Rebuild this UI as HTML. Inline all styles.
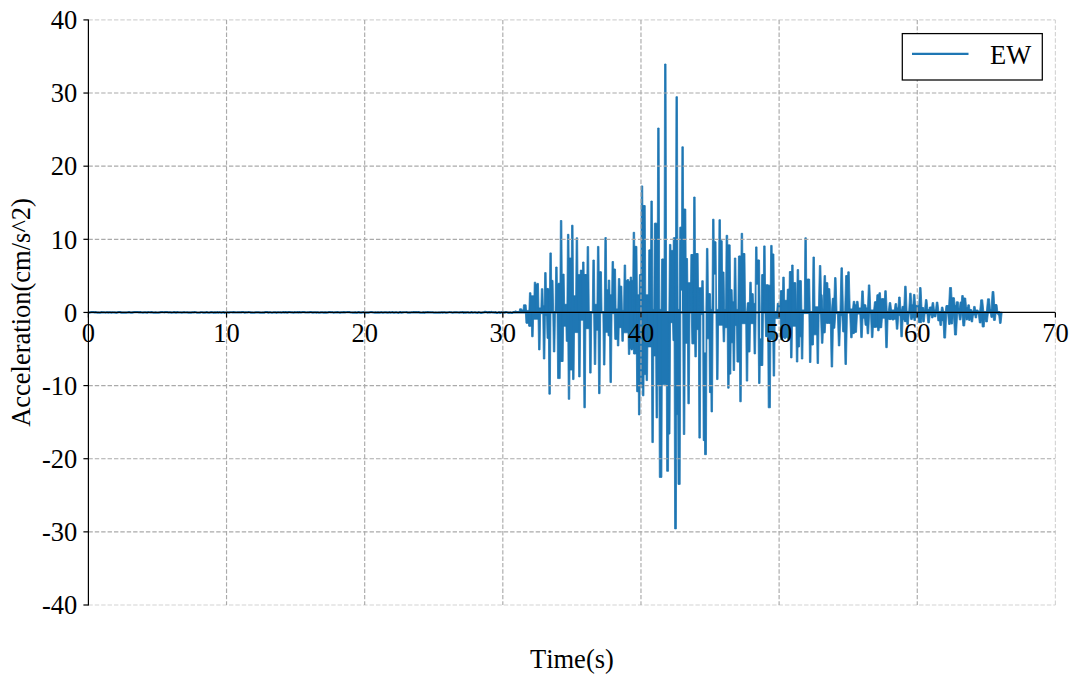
<!DOCTYPE html>
<html><head><meta charset="utf-8"><title>EW acceleration</title>
<style>html,body{margin:0;padding:0;background:#fff;}svg{display:block}text{font-family:"Liberation Serif",serif;fill:#000;font-kerning:none}</style></head><body>
<svg width="1080" height="685" viewBox="0 0 1080 685">
<rect width="1080" height="685" fill="#fff"/>
<polyline points="88.4,312.33 89.3,312.56 90.2,312.48 91.3,312.14 92.5,312.13 93.6,312.15 94.5,312.40 96.0,312.19 96.9,312.54 98.5,312.50 99.6,312.78 100.4,312.70 101.5,312.20 102.4,312.32 103.8,312.23 105.1,312.55 106.2,312.48 107.0,312.14 108.0,312.58 109.1,312.32 110.4,312.42 111.5,312.66 112.8,312.27 114.1,312.47 115.6,312.61 116.6,312.79 117.5,312.39 118.9,312.21 120.1,312.13 121.4,312.64 122.7,312.71 123.7,312.59 125.0,312.51 126.2,312.69 127.7,312.43 129.1,312.14 130.4,312.55 132.0,312.68 133.1,312.37 134.4,312.12 135.6,312.22 136.5,312.14 137.9,312.19 138.9,312.37 140.4,312.16 141.5,312.48 143.0,312.67 144.5,312.29 145.6,312.35 147.2,312.77 148.1,312.22 149.1,312.26 150.3,312.51 151.3,312.10 152.4,312.36 153.6,312.77 155.0,312.46 156.3,312.57 157.1,312.73 158.6,312.71 160.0,312.37 161.1,312.17 162.4,312.14 163.3,312.25 164.2,312.34 165.1,312.10 166.0,312.17 167.1,312.12 168.6,312.53 169.5,312.28 170.6,312.35 171.5,312.69 173.1,312.43 174.2,312.16 175.1,312.34 176.1,312.68 177.1,312.12 178.6,312.47 179.5,312.48 180.4,312.47 181.9,312.70 183.3,312.28 184.4,312.22 185.8,312.47 187.2,312.33 188.2,312.67 189.8,312.70 191.2,312.67 192.6,312.26 193.9,312.35 194.7,312.12 195.7,312.28 197.1,312.77 198.2,312.76 199.8,312.77 200.9,312.25 201.9,312.24 202.8,312.54 204.4,312.69 205.5,312.56 207.0,312.16 208.3,312.74 209.7,312.63 210.9,312.22 212.4,312.33 213.8,312.78 214.9,312.38 216.5,312.61 217.4,312.19 218.3,312.73 219.8,312.20 221.2,312.79 222.6,312.35 223.8,312.19 224.6,312.78 225.9,312.47 227.5,312.40 229.0,312.68 229.9,312.28 231.0,312.27 232.2,312.28 233.4,312.19 234.9,312.35 236.1,312.51 237.6,312.39 239.1,312.45 240.4,312.47 241.2,312.41 242.1,312.10 243.6,312.22 244.7,312.61 246.0,312.33 247.2,312.49 248.6,312.17 249.9,312.27 250.9,312.64 252.1,312.49 253.5,312.74 254.7,312.53 255.9,312.46 257.2,312.42 258.4,312.43 260.0,312.59 261.5,312.76 262.5,312.49 264.1,312.69 265.0,312.19 266.1,312.15 267.1,312.15 268.5,312.65 270.0,312.21 271.3,312.56 272.3,312.72 273.8,312.25 275.4,312.38 276.6,312.79 278.1,312.21 279.2,312.46 280.3,312.24 281.3,312.61 282.1,312.49 283.3,312.11 284.4,312.54 285.6,312.15 287.2,312.65 288.7,312.17 289.7,312.13 291.2,312.29 292.1,312.40 293.6,312.67 294.6,312.20 296.1,312.50 297.5,312.16 298.3,312.58 299.5,312.15 301.0,312.54 302.5,312.16 304.0,312.15 305.5,312.42 306.5,312.49 308.1,312.29 309.0,312.47 310.0,312.18 310.9,312.14 311.9,312.32 312.9,312.63 313.9,312.45 314.9,312.34 315.7,312.28 316.5,312.61 317.7,312.23 318.9,312.75 319.8,312.67 320.9,312.45 322.4,312.38 323.6,312.58 325.2,312.34 326.7,312.59 328.0,312.38 329.1,312.14 330.0,312.15 331.4,312.28 332.3,312.16 333.8,312.71 335.1,312.30 336.1,312.31 337.3,312.21 338.4,312.28 340.0,312.78 341.2,312.27 342.8,312.32 343.9,312.10 345.0,312.43 346.2,312.24 347.4,312.10 348.4,312.16 349.5,312.13 350.3,312.31 351.3,312.51 352.6,312.63 353.9,312.60 355.4,312.37 356.4,312.79 357.4,312.61 358.7,312.13 360.1,312.72 361.4,312.61 362.9,312.20 364.1,312.45 365.6,312.66 367.0,312.51 368.6,312.58 369.9,312.26 370.7,312.19 371.8,312.17 373.3,312.49 374.6,312.54 375.9,312.44 376.7,312.66 378.1,312.45 379.4,312.56 380.2,312.62 381.2,312.15 382.2,312.61 383.2,312.62 384.8,312.45 385.9,312.44 387.2,312.64 388.5,312.55 389.4,312.20 390.4,312.62 391.4,312.50 392.2,312.14 393.3,312.57 394.6,312.57 395.6,312.46 396.8,312.43 397.7,312.73 398.7,312.78 400.2,312.11 401.4,312.67 403.0,312.41 404.0,312.25 405.5,312.25 406.8,312.20 408.0,312.77 408.9,312.67 410.1,312.72 411.5,312.26 413.0,312.44 413.8,312.10 415.0,312.42 416.1,312.20 417.1,312.32 418.6,312.10 420.0,312.69 420.9,312.75 422.3,312.73 423.3,312.36 424.4,312.80 425.7,312.35 426.8,312.29 427.7,312.17 429.2,312.30 430.7,312.27 431.7,312.46 432.7,312.36 434.2,312.72 435.7,312.54 437.2,312.76 438.4,312.60 439.3,312.61 440.4,312.63 441.8,312.30 442.6,312.75 443.5,312.43 444.6,312.31 446.0,312.78 447.0,312.56 448.0,312.49 449.1,312.22 450.1,312.25 451.6,312.45 452.6,312.73 454.2,312.41 455.1,312.23 455.9,312.34 456.8,312.27 457.8,312.50 459.3,312.62 460.5,312.39 461.7,312.36 462.8,312.14 463.8,312.78 464.7,312.45 466.0,312.70 467.0,312.29 468.0,312.38 469.1,312.77 470.6,312.71 471.4,312.12 472.8,312.73 474.0,312.51 474.8,312.37 476.3,312.68 477.8,312.78 478.8,312.18 479.7,312.47 481.0,312.98 482.4,312.63 483.8,312.40 485.1,311.90 486.5,312.13 488.0,312.62 489.1,312.00 490.1,312.61 491.4,311.98 492.3,312.48 493.6,312.32 494.5,312.57 495.4,312.21 496.5,313.00 497.8,312.91 499.0,312.13 500.0,313.00 501.4,312.22 502.2,312.45 503.5,312.35 504.5,312.65 506.1,312.12 506.9,312.26 508.0,312.67 509.0,312.81 510.4,312.46 511.4,313.01 512.4,312.83 513.4,312.12 1000.0,312.45" fill="none" stroke="#1f77b4" stroke-width="2.2" stroke-linejoin="round"/>
<path d="M514.46 312.2L514.85 310.9L516.35 310.9L516.74 312.2ZM515.60 312.2L515.60 311.7L520.60 311.7L520.60 312.2ZM519.05 312.2L519.60 308.8L521.60 308.8L522.15 312.2ZM520.60 312.2L520.60 309.9L524.80 309.9L524.80 312.2ZM522.90 312.2L523.50 304.8L526.10 304.8L526.70 312.2ZM524.80 312.2L524.80 310.4L530.20 310.4L530.20 312.2ZM528.85 312.2L529.45 292.7L530.95 292.7L531.55 312.2ZM530.20 312.2L530.20 295.8L535.00 295.8L535.00 312.2ZM533.65 312.2L534.25 282.2L535.75 282.2L536.35 312.2ZM535.00 312.2L535.00 284.2L537.70 284.2L537.70 312.2ZM536.35 312.2L536.95 283.4L538.45 283.4L539.05 312.2ZM537.70 312.2L537.70 307.9L542.10 307.9L542.10 312.2ZM540.75 312.2L541.35 288.7L542.85 288.7L543.45 312.2ZM542.10 312.2L542.10 305.8L545.40 305.8L545.40 312.2ZM544.05 312.2L544.65 272.6L546.15 272.6L546.75 312.2ZM545.40 312.2L545.40 288.7L547.80 288.7L547.80 312.2ZM546.45 312.2L547.05 288.4L548.55 288.4L549.15 312.2ZM547.80 312.2L547.80 289.7L550.60 289.7L550.60 312.2ZM549.25 312.2L549.85 252.9L551.35 252.9L551.95 312.2ZM550.60 312.2L550.60 280.4L552.30 280.4L552.30 312.2ZM550.95 312.2L551.55 280.4L553.05 280.4L553.65 312.2ZM555.05 312.2L555.65 267.0L557.15 267.0L557.75 312.2ZM556.40 312.2L556.40 284.2L558.90 284.2L558.90 312.2ZM557.55 312.2L558.15 283.2L559.65 283.2L560.25 312.2ZM558.90 312.2L558.90 283.7L561.10 283.7L561.10 312.2ZM559.75 312.2L560.35 220.5L561.85 220.5L562.45 312.2ZM561.10 312.2L561.10 274.6L563.40 274.6L563.40 312.2ZM562.05 312.2L562.65 274.1L564.15 274.1L564.75 312.2ZM563.40 312.2L563.40 304.3L568.20 304.3L568.20 312.2ZM566.85 312.2L567.45 234.3L568.95 234.3L569.55 312.2ZM568.20 312.2L568.20 258.0L572.30 258.0L572.30 312.2ZM570.95 312.2L571.55 225.2L573.05 225.2L573.65 312.2ZM572.30 312.2L572.30 295.8L576.90 295.8L576.90 312.2ZM575.55 312.2L576.15 237.8L577.65 237.8L578.25 312.2ZM576.90 312.2L576.90 274.6L581.00 274.6L581.00 312.2ZM579.65 312.2L580.25 270.1L581.75 270.1L582.35 312.2ZM581.00 312.2L581.00 270.6L583.30 270.6L583.30 312.2ZM581.95 312.2L582.55 262.0L584.05 262.0L584.65 312.2ZM583.30 312.2L583.30 274.6L585.60 274.6L585.60 312.2ZM584.25 312.2L584.85 274.6L586.35 274.6L586.95 312.2ZM585.60 312.2L585.60 274.6L587.90 274.6L587.90 312.2ZM586.55 312.2L587.15 246.6L588.65 246.6L589.25 312.2ZM592.25 312.2L592.85 260.0L594.35 260.0L594.95 312.2ZM593.60 312.2L593.60 304.3L598.20 304.3L598.20 312.2ZM596.85 312.2L597.45 246.4L598.95 246.4L599.55 312.2ZM598.20 312.2L598.20 271.8L600.70 271.8L600.70 312.2ZM599.35 312.2L599.95 271.8L601.45 271.8L602.05 312.2ZM604.25 312.2L604.85 237.6L606.35 237.6L606.95 312.2ZM605.60 312.2L605.60 289.7L609.00 289.7L609.00 312.2ZM607.65 312.2L608.25 280.1L609.75 280.1L610.35 312.2ZM609.00 312.2L609.00 294.8L612.80 294.8L612.80 312.2ZM611.45 312.2L612.05 261.5L613.55 261.5L614.15 312.2ZM612.80 312.2L612.80 269.1L614.80 269.1L614.80 312.2ZM613.45 312.2L614.05 269.1L615.55 269.1L616.15 312.2ZM614.80 312.2L614.80 308.9L619.10 308.9L619.10 312.2ZM617.75 312.2L618.35 278.6L619.85 278.6L620.45 312.2ZM619.10 312.2L619.10 286.2L621.10 286.2L621.10 312.2ZM619.75 312.2L620.35 286.2L621.85 286.2L622.45 312.2ZM621.10 312.2L621.10 310.4L624.90 310.4L624.90 312.2ZM623.55 312.2L624.15 265.0L625.65 265.0L626.25 312.2ZM624.90 312.2L624.90 280.4L627.90 280.4L627.90 312.2ZM626.55 312.2L627.15 279.6L628.65 279.6L629.25 312.2ZM627.90 312.2L627.90 281.4L630.90 281.4L630.90 312.2ZM629.55 312.2L630.15 277.1L631.65 277.1L632.25 312.2ZM630.90 312.2L630.90 280.4L633.90 280.4L633.90 312.2ZM632.55 312.2L633.15 232.3L634.65 232.3L635.25 312.2ZM633.90 312.2L633.90 246.4L636.20 246.4L636.20 312.2ZM634.85 312.2L635.45 246.4L636.95 246.4L637.55 312.2ZM636.20 312.2L636.20 294.8L640.20 294.8L640.20 312.2ZM638.85 312.2L639.45 274.6L640.95 274.6L641.55 312.2ZM640.20 312.2L640.20 274.6L642.00 274.6L642.00 312.2ZM640.65 312.2L641.25 185.9L642.75 185.9L643.35 312.2ZM642.00 312.2L642.00 205.6L644.50 205.6L644.50 312.2ZM643.15 312.2L643.75 205.6L645.25 205.6L645.85 312.2ZM644.50 312.2L644.50 294.8L649.50 294.8L649.50 312.2ZM648.15 312.2L648.75 249.9L650.25 249.9L650.85 312.2ZM649.50 312.2L649.50 249.9L651.60 249.9L651.60 312.2ZM650.25 312.2L650.85 201.0L652.35 201.0L652.95 312.2ZM651.60 312.2L651.60 309.4L655.10 309.4L655.10 312.2ZM653.75 312.2L654.35 223.2L655.85 223.2L656.45 312.2ZM655.10 312.2L655.10 223.2L658.40 223.2L658.40 312.2ZM657.05 312.2L657.65 128.0L659.15 128.0L659.75 312.2ZM658.40 312.2L658.40 309.4L662.40 309.4L662.40 312.2ZM661.05 312.2L661.65 259.0L663.15 259.0L663.75 312.2ZM662.40 312.2L662.40 259.0L665.30 259.0L665.30 312.2ZM663.95 312.2L664.55 64.0L666.05 64.0L666.65 312.2ZM668.85 312.2L669.45 244.4L670.95 244.4L671.55 312.2ZM670.20 312.2L670.20 250.4L674.00 250.4L674.00 312.2ZM672.65 312.2L673.25 237.8L674.75 237.8L675.35 312.2ZM674.00 312.2L674.00 237.8L676.70 237.8L676.70 312.2ZM675.35 312.2L675.95 96.7L677.45 96.7L678.05 312.2ZM676.70 312.2L676.70 309.4L680.50 309.4L680.50 312.2ZM679.15 312.2L679.75 227.2L681.25 227.2L681.85 312.2ZM680.50 312.2L680.50 227.2L682.60 227.2L682.60 312.2ZM681.25 312.2L681.85 146.8L683.35 146.8L683.95 312.2ZM682.60 312.2L682.60 209.1L685.10 209.1L685.10 312.2ZM683.75 312.2L684.35 209.1L685.85 209.1L686.45 312.2ZM685.10 312.2L685.10 258.5L686.80 258.5L686.80 312.2ZM685.45 312.2L686.05 258.5L687.55 258.5L688.15 312.2ZM686.80 312.2L686.80 282.7L691.60 282.7L691.60 312.2ZM690.25 312.2L690.85 254.5L692.35 254.5L692.95 312.2ZM691.60 312.2L691.60 254.5L694.40 254.5L694.40 312.2ZM693.05 312.2L693.65 197.0L695.15 197.0L695.75 312.2ZM694.40 312.2L694.40 253.5L697.40 253.5L697.40 312.2ZM696.05 312.2L696.65 253.5L698.15 253.5L698.75 312.2ZM697.40 312.2L697.40 287.7L702.50 287.7L702.50 312.2ZM701.15 312.2L701.75 280.7L703.25 280.7L703.85 312.2ZM705.85 312.2L706.45 248.4L707.95 248.4L708.55 312.2ZM707.20 312.2L707.20 293.7L709.70 293.7L709.70 312.2ZM708.35 312.2L708.95 293.7L710.45 293.7L711.05 312.2ZM709.70 312.2L709.70 309.4L713.30 309.4L713.30 312.2ZM711.95 312.2L712.55 219.2L714.05 219.2L714.65 312.2ZM713.30 312.2L713.30 241.8L715.30 241.8L715.30 312.2ZM713.95 312.2L714.55 241.8L716.05 241.8L716.65 312.2ZM715.30 312.2L715.30 309.4L719.70 309.4L719.70 312.2ZM718.35 312.2L718.95 219.7L720.45 219.7L721.05 312.2ZM719.70 312.2L719.70 240.8L721.50 240.8L721.50 312.2ZM720.15 312.2L720.75 240.8L722.25 240.8L722.85 312.2ZM721.50 312.2L721.50 272.1L723.30 272.1L723.30 312.2ZM721.95 312.2L722.55 272.1L724.05 272.1L724.65 312.2ZM723.30 312.2L723.30 309.4L726.90 309.4L726.90 312.2ZM725.50 312.2L726.10 235.3L727.70 235.3L728.30 312.2ZM726.90 312.2L726.90 244.9L729.40 244.9L729.40 312.2ZM728.00 312.2L728.60 244.9L730.20 244.9L730.80 312.2ZM729.40 312.2L729.40 289.7L731.40 289.7L731.40 312.2ZM730.05 312.2L730.65 289.7L732.15 289.7L732.75 312.2ZM731.40 312.2L731.40 301.8L735.10 301.8L735.10 312.2ZM733.75 312.2L734.35 258.0L735.85 258.0L736.45 312.2ZM735.10 312.2L735.10 309.4L739.20 309.4L739.20 312.2ZM737.85 312.2L738.45 256.0L739.95 256.0L740.55 312.2ZM739.20 312.2L739.20 256.0L741.90 256.0L741.90 312.2ZM740.55 312.2L741.15 233.3L742.65 233.3L743.25 312.2ZM741.90 312.2L741.90 253.5L744.20 253.5L744.20 312.2ZM742.85 312.2L743.45 253.5L744.95 253.5L745.55 312.2ZM746.65 312.2L747.25 302.8L748.75 302.8L749.35 312.2ZM748.00 312.2L748.00 302.8L750.50 302.8L750.50 312.2ZM749.15 312.2L749.75 282.2L751.25 282.2L751.85 312.2ZM750.50 312.2L750.50 293.7L752.50 293.7L752.50 312.2ZM751.15 312.2L751.75 293.7L753.25 293.7L753.85 312.2ZM752.50 312.2L752.50 303.4L756.30 303.4L756.30 312.2ZM754.95 312.2L755.55 246.9L757.05 246.9L757.65 312.2ZM756.30 312.2L756.30 260.0L758.80 260.0L758.80 312.2ZM757.45 312.2L758.05 260.0L759.55 260.0L760.15 312.2ZM761.05 312.2L761.65 274.6L763.15 274.6L763.75 312.2ZM762.40 312.2L762.40 274.6L764.40 274.6L764.40 312.2ZM763.05 312.2L763.65 245.9L765.15 245.9L765.75 312.2ZM764.40 312.2L764.40 284.7L767.90 284.7L767.90 312.2ZM766.55 312.2L767.15 285.2L768.65 285.2L769.25 312.2ZM767.90 312.2L767.90 285.2L771.40 285.2L771.40 312.2ZM770.05 312.2L770.65 245.4L772.15 245.4L772.75 312.2ZM771.40 312.2L771.40 254.0L773.20 254.0L773.20 312.2ZM771.85 312.2L772.45 254.0L773.95 254.0L774.55 312.2ZM776.65 312.2L777.25 303.3L778.75 303.3L779.35 312.2ZM778.00 312.2L778.00 303.3L781.00 303.3L781.00 312.2ZM779.65 312.2L780.25 290.7L781.75 290.7L782.35 312.2ZM781.00 312.2L781.00 290.7L783.50 290.7L783.50 312.2ZM782.15 312.2L782.75 277.1L784.25 277.1L784.85 312.2ZM783.50 312.2L783.50 300.3L788.00 300.3L788.00 312.2ZM786.65 312.2L787.25 289.2L788.75 289.2L789.35 312.2ZM788.00 312.2L788.00 289.2L790.10 289.2L790.10 312.2ZM788.75 312.2L789.35 271.6L790.85 271.6L791.45 312.2ZM790.10 312.2L790.10 271.6L792.40 271.6L792.40 312.2ZM791.05 312.2L791.65 265.0L793.15 265.0L793.75 312.2ZM792.40 312.2L792.40 282.7L795.10 282.7L795.10 312.2ZM793.75 312.2L794.35 282.7L795.85 282.7L796.45 312.2ZM795.10 312.2L795.10 309.4L797.90 309.4L797.90 312.2ZM796.55 312.2L797.15 269.6L798.65 269.6L799.25 312.2ZM797.90 312.2L797.90 280.7L800.60 280.7L800.60 312.2ZM799.25 312.2L799.85 280.7L801.35 280.7L801.95 312.2ZM800.60 312.2L800.60 309.9L805.60 309.9L805.60 312.2ZM804.25 312.2L804.85 237.8L806.35 237.8L806.95 312.2ZM805.60 312.2L805.60 279.1L808.90 279.1L808.90 312.2ZM807.55 312.2L808.15 279.1L809.65 279.1L810.25 312.2ZM812.35 312.2L812.95 257.0L814.45 257.0L815.05 312.2ZM813.70 312.2L813.70 306.8L820.10 306.8L820.10 312.2ZM818.35 312.2L819.35 265.5L820.85 265.5L821.85 312.2ZM820.10 312.2L820.10 294.8L821.40 294.8L821.40 312.2ZM819.65 312.2L820.65 294.8L822.15 294.8L823.15 312.2ZM821.40 312.2L821.40 309.4L824.80 309.4L824.80 312.2ZM823.05 312.2L824.05 275.6L825.55 275.6L826.55 312.2ZM824.80 312.2L824.80 282.7L827.10 282.7L827.10 312.2ZM825.35 312.2L826.35 282.7L827.85 282.7L828.85 312.2ZM827.10 312.2L827.10 288.7L829.10 288.7L829.10 312.2ZM827.35 312.2L828.35 288.7L829.85 288.7L830.85 312.2ZM831.35 312.2L832.35 298.3L833.85 298.3L834.85 312.2ZM833.10 312.2L833.10 298.3L835.30 298.3L835.30 312.2ZM833.55 312.2L834.55 277.6L836.05 277.6L837.05 312.2ZM839.95 312.2L840.95 267.8L842.45 267.8L843.45 312.2ZM844.65 312.2L845.65 275.6L847.15 275.6L848.15 312.2ZM846.40 312.2L846.40 275.6L848.50 275.6L848.50 312.2ZM846.75 312.2L847.75 271.8L849.25 271.8L850.25 312.2ZM848.50 312.2L848.50 308.9L854.00 308.9L854.00 312.2ZM852.25 312.2L853.25 301.3L854.75 301.3L855.75 312.2ZM854.00 312.2L854.00 304.8L857.30 304.8L857.30 312.2ZM855.55 312.2L856.55 301.3L858.05 301.3L859.05 312.2ZM857.30 312.2L857.30 307.9L862.50 307.9L862.50 312.2ZM860.75 312.2L861.75 290.9L863.25 290.9L864.25 312.2ZM862.50 312.2L862.50 304.8L865.10 304.8L865.10 312.2ZM863.48 312.2L864.35 304.8L865.85 304.8L866.72 312.2ZM865.10 312.2L865.10 307.9L869.10 307.9L869.10 312.2ZM867.35 312.2L868.35 284.9L869.85 284.9L870.85 312.2ZM869.10 312.2L869.10 309.9L875.20 309.9L875.20 312.2ZM873.45 312.2L874.45 301.8L875.95 301.8L876.95 312.2ZM875.20 312.2L875.20 301.8L877.60 301.8L877.60 312.2ZM875.85 312.2L876.85 294.8L878.35 294.8L879.35 312.2ZM877.60 312.2L877.60 294.8L879.70 294.8L879.70 312.2ZM877.95 312.2L878.95 292.7L880.45 292.7L881.45 312.2ZM879.70 312.2L879.70 298.8L882.70 298.8L882.70 312.2ZM880.95 312.2L881.95 298.8L883.45 298.8L884.45 312.2ZM882.70 312.2L882.70 298.8L885.50 298.8L885.50 312.2ZM883.75 312.2L884.75 290.7L886.25 290.7L887.25 312.2ZM885.50 312.2L885.50 311.4L890.00 311.4L890.00 312.2ZM888.25 312.2L889.25 302.6L890.75 302.6L891.75 312.2ZM890.00 312.2L890.00 309.9L895.80 309.9L895.80 312.2ZM894.08 312.2L895.05 303.6L896.55 303.6L897.52 312.2ZM895.80 312.2L895.80 307.9L899.40 307.9L899.40 312.2ZM897.65 312.2L898.65 297.0L900.15 297.0L901.15 312.2ZM899.40 312.2L899.40 309.9L902.80 309.9L902.80 312.2ZM901.30 312.2L902.05 306.4L903.55 306.4L904.30 312.2ZM902.80 312.2L902.80 306.4L905.40 306.4L905.40 312.2ZM903.65 312.2L904.65 286.2L906.15 286.2L907.15 312.2ZM905.40 312.2L905.40 311.4L910.40 311.4L910.40 312.2ZM908.65 312.2L909.65 293.2L911.15 293.2L912.15 312.2ZM910.40 312.2L910.40 304.8L914.20 304.8L914.20 312.2ZM912.45 312.2L913.45 294.4L914.95 294.4L915.95 312.2ZM914.20 312.2L914.20 305.4L916.70 305.4L916.70 312.2ZM915.12 312.2L915.95 305.4L917.45 305.4L918.28 312.2ZM916.70 312.2L916.70 305.4L920.30 305.4L920.30 312.2ZM918.40 312.2L919.55 287.5L921.05 287.5L922.20 312.2ZM920.30 312.2L920.30 307.6L923.00 307.6L923.00 312.2ZM921.60 312.2L922.25 307.6L923.75 307.6L924.40 312.2ZM923.00 312.2L923.00 310.6L926.20 310.6L926.20 312.2ZM924.30 312.2L925.45 299.6L926.95 299.6L928.10 312.2ZM926.20 312.2L926.20 309.6L930.10 309.6L930.10 312.2ZM928.66 312.2L929.35 307.1L930.85 307.1L931.54 312.2ZM930.10 312.2L930.10 307.1L932.90 307.1L932.90 312.2ZM931.10 312.2L932.15 302.6L933.65 302.6L934.70 312.2ZM932.90 312.2L932.90 310.1L937.10 310.1L937.10 312.2ZM935.26 312.2L936.35 302.1L937.85 302.1L938.94 312.2ZM940.76 312.2L941.45 307.1L942.95 307.1L943.64 312.2ZM945.14 312.2L945.95 305.6L947.45 305.6L948.26 312.2ZM946.70 312.2L946.70 305.6L950.50 305.6L950.50 312.2ZM948.35 312.2L949.50 287.5L951.50 287.5L952.65 312.2ZM950.50 312.2L950.50 297.8L953.70 297.8L953.70 312.2ZM951.80 312.2L952.95 297.8L954.45 297.8L955.60 312.2ZM953.70 312.2L953.70 305.6L957.30 305.6L957.30 312.2ZM955.19 312.2L956.30 301.8L958.30 301.8L959.41 312.2ZM957.30 312.2L957.30 308.6L960.80 308.6L960.80 312.2ZM958.96 312.2L960.05 302.1L961.55 302.1L962.64 312.2ZM960.80 312.2L960.80 302.1L962.50 302.1L962.50 312.2ZM960.60 312.2L961.75 295.5L963.25 295.5L964.40 312.2ZM962.50 312.2L962.50 298.1L965.00 298.1L965.00 312.2ZM963.10 312.2L964.25 298.1L965.75 298.1L966.90 312.2ZM965.00 312.2L965.00 307.6L968.60 307.6L968.60 312.2ZM966.98 312.2L967.85 304.8L969.35 304.8L970.22 312.2ZM968.60 312.2L968.60 309.6L970.90 309.6L970.90 312.2ZM969.66 312.2L970.15 309.6L971.65 309.6L972.14 312.2ZM970.90 312.2L970.90 311.1L974.40 311.1L974.40 312.2ZM972.90 312.2L973.65 306.4L975.15 306.4L975.90 312.2ZM974.40 312.2L974.40 310.1L977.40 310.1L977.40 312.2ZM976.20 312.2L976.65 310.1L978.15 310.1L978.60 312.2ZM979.55 312.2L980.70 299.8L982.70 299.8L983.85 312.2ZM986.35 312.2L987.50 298.8L989.50 298.8L990.65 312.2ZM988.50 312.2L988.50 309.6L993.00 309.6L993.00 312.2ZM990.95 312.2L992.10 291.5L993.90 291.5L995.05 312.2ZM993.00 312.2L993.00 304.6L996.10 304.6L996.10 312.2ZM994.31 312.2L995.20 304.6L997.00 304.6L997.89 312.2ZM528.05 312.2L527.45 323.2L525.95 323.2L525.35 312.2ZM529.40 312.2L529.40 323.2L526.70 323.2L526.70 312.2ZM530.75 312.2L530.15 326.2L528.65 326.2L528.05 312.2ZM532.40 312.2L532.40 326.2L529.40 326.2L529.40 312.2ZM533.75 312.2L533.15 336.8L531.65 336.8L531.05 312.2ZM539.30 312.2L539.30 319.2L532.40 319.2L532.40 312.2ZM540.65 312.2L540.05 349.9L538.55 349.9L537.95 312.2ZM544.10 312.2L544.10 313.6L539.30 313.6L539.30 312.2ZM545.45 312.2L544.85 359.0L543.35 359.0L542.75 312.2ZM547.80 312.2L547.80 315.6L544.10 315.6L544.10 312.2ZM549.15 312.2L548.55 338.3L547.05 338.3L546.45 312.2ZM549.60 312.2L549.60 338.3L547.80 338.3L547.80 312.2ZM550.95 312.2L550.35 394.2L548.85 394.2L548.25 312.2ZM555.45 312.2L554.85 351.9L553.35 351.9L552.75 312.2ZM560.80 312.2L560.20 378.6L557.60 378.6L557.00 312.2ZM562.40 312.2L562.40 361.5L558.90 361.5L558.90 312.2ZM563.75 312.2L563.15 361.5L561.65 361.5L561.05 312.2ZM567.00 312.2L567.00 326.2L562.40 326.2L562.40 312.2ZM568.35 312.2L567.75 341.3L566.25 341.3L565.65 312.2ZM569.00 312.2L569.00 341.3L567.00 341.3L567.00 312.2ZM570.35 312.2L569.75 399.3L568.25 399.3L567.65 312.2ZM573.30 312.2L573.30 370.0L569.00 370.0L569.00 312.2ZM574.65 312.2L574.05 379.6L572.55 379.6L571.95 312.2ZM579.40 312.2L579.40 332.6L573.30 332.6L573.30 312.2ZM580.75 312.2L580.15 376.9L578.65 376.9L578.05 312.2ZM584.60 312.2L584.60 320.2L579.40 320.2L579.40 312.2ZM585.95 312.2L585.35 407.8L583.85 407.8L583.25 312.2ZM590.40 312.2L590.40 328.7L584.60 328.7L584.60 312.2ZM591.75 312.2L591.15 373.1L589.65 373.1L589.05 312.2ZM596.35 312.2L595.75 364.5L594.25 364.5L593.65 312.2ZM599.30 312.2L599.30 330.2L595.00 330.2L595.00 312.2ZM600.65 312.2L600.05 393.7L598.55 393.7L597.95 312.2ZM605.55 312.2L604.95 365.0L603.45 365.0L602.85 312.2ZM608.80 312.2L608.80 332.3L604.20 332.3L604.20 312.2ZM610.15 312.2L609.55 335.8L608.05 335.8L607.45 312.2ZM610.70 312.2L610.70 335.8L608.80 335.8L608.80 312.2ZM612.05 312.2L611.45 382.6L609.95 382.6L609.35 312.2ZM615.50 312.2L615.50 313.6L610.70 313.6L610.70 312.2ZM616.85 312.2L616.25 339.3L614.75 339.3L614.15 312.2ZM618.10 312.2L618.10 339.3L615.50 339.3L615.50 312.2ZM619.45 312.2L618.85 345.9L617.35 345.9L616.75 312.2ZM622.60 312.2L622.60 327.7L618.10 327.7L618.10 312.2ZM623.95 312.2L623.35 341.3L621.85 341.3L621.25 312.2ZM629.10 312.2L629.10 332.8L622.60 332.8L622.60 312.2ZM630.45 312.2L629.85 354.4L628.35 354.4L627.75 312.2ZM631.70 312.2L631.70 348.6L629.10 348.6L629.10 312.2ZM633.05 312.2L632.45 349.9L630.95 349.9L630.35 312.2ZM634.20 312.2L634.20 348.6L631.70 348.6L631.70 312.2ZM635.55 312.2L634.95 353.9L633.45 353.9L632.85 312.2ZM637.40 312.2L637.40 353.9L634.20 353.9L634.20 312.2ZM638.75 312.2L638.15 391.7L636.65 391.7L636.05 312.2ZM639.20 312.2L639.20 391.7L637.40 391.7L637.40 312.2ZM640.55 312.2L639.95 414.9L638.45 414.9L637.85 312.2ZM643.20 312.2L643.20 387.6L639.20 387.6L639.20 312.2ZM644.55 312.2L643.95 395.8L642.45 395.8L641.85 312.2ZM646.80 312.2L646.80 374.6L643.20 374.6L643.20 312.2ZM648.15 312.2L647.55 380.6L646.05 380.6L645.45 312.2ZM652.60 312.2L652.60 346.9L646.80 346.9L646.80 312.2ZM653.95 312.2L653.35 442.6L651.85 442.6L651.25 312.2ZM656.80 312.2L656.80 355.9L652.60 355.9L652.60 312.2ZM658.15 312.2L657.55 417.9L656.05 417.9L655.45 312.2ZM660.60 312.2L660.60 384.6L656.80 384.6L656.80 312.2ZM662.50 312.2L661.90 477.4L659.30 477.4L658.70 312.2ZM667.60 312.2L667.60 384.6L660.60 384.6L660.60 312.2ZM669.15 312.2L668.55 471.3L666.65 471.3L666.05 312.2ZM669.30 312.2L669.30 434.0L667.60 434.0L667.60 312.2ZM670.60 312.2L670.00 434.0L668.60 434.0L668.00 312.2ZM673.70 312.2L673.70 322.7L669.30 322.7L669.30 312.2ZM675.05 312.2L674.45 340.6L672.95 340.6L672.35 312.2ZM675.50 312.2L675.50 340.6L673.70 340.6L673.70 312.2ZM677.00 312.2L676.40 528.9L674.60 528.9L674.00 312.2ZM679.10 312.2L679.10 414.6L675.50 414.6L675.50 312.2ZM680.80 312.2L680.20 484.4L678.00 484.4L677.40 312.2ZM685.40 312.2L684.80 434.5L683.30 434.5L682.70 312.2ZM688.60 312.2L688.60 343.3L684.05 343.3L684.05 312.2ZM689.95 312.2L689.35 403.8L687.85 403.8L687.25 312.2ZM693.95 312.2L693.35 343.8L691.85 343.8L691.25 312.2ZM695.60 312.2L695.60 343.8L692.60 343.8L692.60 312.2ZM696.95 312.2L696.35 356.9L694.85 356.9L694.25 312.2ZM699.60 312.2L699.60 329.6L695.60 329.6L695.60 312.2ZM700.95 312.2L700.35 438.1L698.85 438.1L698.25 312.2ZM703.90 312.2L703.90 314.6L699.60 314.6L699.60 312.2ZM705.20 312.2L704.60 440.6L703.20 440.6L702.60 312.2ZM705.50 312.2L705.50 440.6L703.90 440.6L703.90 312.2ZM707.05 312.2L706.45 454.7L704.55 454.7L703.95 312.2ZM710.20 312.2L710.20 338.8L705.50 338.8L705.50 312.2ZM711.55 312.2L710.95 392.6L709.45 392.6L708.85 312.2ZM711.75 312.2L711.75 392.6L710.20 392.6L710.20 312.2ZM713.10 312.2L712.50 411.9L711.00 411.9L710.40 312.2ZM718.65 312.2L718.05 379.6L716.55 379.6L715.95 312.2ZM723.90 312.2L723.90 325.2L717.30 325.2L717.30 312.2ZM725.25 312.2L724.65 341.8L723.15 341.8L722.55 312.2ZM728.40 312.2L728.40 327.7L723.90 327.7L723.90 312.2ZM729.75 312.2L729.15 388.2L727.65 388.2L727.05 312.2ZM730.10 312.2L730.10 374.1L728.40 374.1L728.40 312.2ZM731.45 312.2L730.85 374.1L729.35 374.1L728.75 312.2ZM733.90 312.2L733.90 342.8L730.10 342.8L730.10 312.2ZM735.25 312.2L734.65 370.5L733.15 370.5L732.55 312.2ZM737.70 312.2L737.70 325.6L733.90 325.6L733.90 312.2ZM739.05 312.2L738.45 362.0L736.95 362.0L736.35 312.2ZM740.50 312.2L740.50 362.0L737.70 362.0L737.70 312.2ZM741.85 312.2L741.25 401.8L739.75 401.8L739.15 312.2ZM747.00 312.2L747.00 323.7L740.50 323.7L740.50 312.2ZM748.35 312.2L747.75 381.1L746.25 381.1L745.65 312.2ZM749.30 312.2L749.30 351.9L747.00 351.9L747.00 312.2ZM750.65 312.2L750.05 351.9L748.55 351.9L747.95 312.2ZM754.80 312.2L754.80 323.7L749.30 323.7L749.30 312.2ZM756.15 312.2L755.55 353.9L754.05 353.9L753.45 312.2ZM760.65 312.2L760.05 383.5L758.55 383.5L757.95 312.2ZM762.10 312.2L762.10 365.5L759.30 365.5L759.30 312.2ZM763.45 312.2L762.85 365.5L761.35 365.5L760.75 312.2ZM767.65 312.2L767.05 336.6L765.55 336.6L764.95 312.2ZM769.30 312.2L769.30 336.6L766.30 336.6L766.30 312.2ZM771.00 312.2L770.40 407.8L768.20 407.8L767.60 312.2ZM773.90 312.2L773.90 339.6L769.30 339.6L769.30 312.2ZM775.25 312.2L774.65 376.1L773.15 376.1L772.55 312.2ZM781.50 312.2L781.50 318.6L773.90 318.6L773.90 312.2ZM782.85 312.2L782.25 339.8L780.75 339.8L780.15 312.2ZM785.00 312.2L785.00 337.6L781.50 337.6L781.50 312.2ZM786.35 312.2L785.75 338.6L784.25 338.6L783.65 312.2ZM788.50 312.2L788.50 337.6L785.00 337.6L785.00 312.2ZM789.85 312.2L789.25 339.6L787.75 339.6L787.15 312.2ZM791.30 312.2L791.30 337.6L788.50 337.6L788.50 312.2ZM792.65 312.2L792.05 357.9L790.55 357.9L789.95 312.2ZM797.10 312.2L797.10 326.2L791.30 326.2L791.30 312.2ZM798.45 312.2L797.85 362.0L796.35 362.0L795.75 312.2ZM798.80 312.2L798.80 346.9L797.10 346.9L797.10 312.2ZM800.15 312.2L799.55 346.9L798.05 346.9L797.45 312.2ZM802.10 312.2L802.10 336.8L798.80 336.8L798.80 312.2ZM803.45 312.2L802.85 359.0L801.35 359.0L800.75 312.2ZM810.20 312.2L810.20 313.6L802.10 313.6L802.10 312.2ZM811.55 312.2L810.95 362.5L809.45 362.5L808.85 312.2ZM812.70 312.2L812.70 344.9L810.20 344.9L810.20 312.2ZM814.05 312.2L813.45 344.9L811.95 344.9L811.35 312.2ZM817.80 312.2L817.80 334.8L812.70 334.8L812.70 312.2ZM819.15 312.2L818.55 363.5L817.05 363.5L816.45 312.2ZM822.20 312.2L822.20 313.6L817.80 313.6L817.80 312.2ZM823.95 312.2L822.95 343.3L821.45 343.3L820.45 312.2ZM824.50 312.2L824.50 332.8L822.20 332.8L822.20 312.2ZM826.25 312.2L825.25 332.8L823.75 332.8L822.75 312.2ZM827.50 312.2L827.50 323.2L824.50 323.2L824.50 312.2ZM829.25 312.2L828.25 323.2L826.75 323.2L825.75 312.2ZM829.50 312.2L829.50 323.2L827.50 323.2L827.50 312.2ZM831.25 312.2L830.25 323.2L828.75 323.2L827.75 312.2ZM831.90 312.2L831.90 323.2L829.50 323.2L829.50 312.2ZM833.65 312.2L832.65 367.0L831.15 367.0L830.15 312.2ZM834.10 312.2L834.10 328.2L831.90 328.2L831.90 312.2ZM835.85 312.2L834.85 328.2L833.35 328.2L832.35 312.2ZM839.10 312.2L839.10 313.6L834.10 313.6L834.10 312.2ZM840.85 312.2L839.85 345.9L838.35 345.9L837.35 312.2ZM843.40 312.2L843.40 315.6L839.10 315.6L839.10 312.2ZM845.15 312.2L844.15 331.8L842.65 331.8L841.65 312.2ZM845.70 312.2L845.70 331.8L843.40 331.8L843.40 312.2ZM847.45 312.2L846.45 364.5L844.95 364.5L843.95 312.2ZM853.15 312.2L852.15 337.8L850.65 337.8L849.65 312.2ZM853.60 312.2L853.60 333.6L851.40 333.6L851.40 312.2ZM855.35 312.2L854.35 333.6L852.85 333.6L851.85 312.2ZM855.80 312.2L855.80 332.3L853.60 332.3L853.60 312.2ZM857.55 312.2L856.55 332.3L855.05 332.3L854.05 312.2ZM861.50 312.2L861.50 314.1L855.80 314.1L855.80 312.2ZM863.25 312.2L862.25 337.6L860.75 337.6L859.75 312.2ZM865.80 312.2L865.80 318.2L861.50 318.2L861.50 312.2ZM867.55 312.2L866.55 325.2L865.05 325.2L864.05 312.2ZM867.90 312.2L867.90 325.2L865.80 325.2L865.80 312.2ZM869.65 312.2L868.65 333.8L867.15 333.8L866.15 312.2ZM872.20 312.2L872.20 313.6L867.90 313.6L867.90 312.2ZM873.95 312.2L872.95 337.6L871.45 337.6L870.45 312.2ZM874.90 312.2L874.90 327.2L872.20 327.2L872.20 312.2ZM876.65 312.2L875.65 327.2L874.15 327.2L873.15 312.2ZM878.40 312.2L878.40 327.2L874.90 327.2L874.90 312.2ZM880.15 312.2L879.15 330.8L877.65 330.8L876.65 312.2ZM881.00 312.2L881.00 327.7L878.40 327.7L878.40 312.2ZM882.75 312.2L881.75 327.7L880.25 327.7L879.25 312.2ZM886.50 312.2L886.50 318.2L881.00 318.2L881.00 312.2ZM888.25 312.2L887.25 347.7L885.75 347.7L884.75 312.2ZM890.00 312.2L890.00 319.2L886.50 319.2L886.50 312.2ZM891.62 312.2L890.75 319.6L889.25 319.6L888.38 312.2ZM893.00 312.2L893.00 319.2L890.00 319.2L890.00 312.2ZM894.66 312.2L893.75 320.1L892.25 320.1L891.34 312.2ZM897.10 312.2L897.10 319.2L893.00 319.2L893.00 312.2ZM898.85 312.2L897.85 329.2L896.35 329.2L895.35 312.2ZM901.60 312.2L901.60 315.6L897.10 315.6L897.10 312.2ZM903.35 312.2L902.35 336.8L900.85 336.8L899.85 312.2ZM905.00 312.2L905.00 319.7L901.60 319.7L901.60 312.2ZM906.75 312.2L905.75 321.6L904.25 321.6L903.25 312.2ZM907.60 312.2L907.60 321.6L905.00 321.6L905.00 312.2ZM909.35 312.2L908.35 324.6L906.85 324.6L905.85 312.2ZM911.50 312.2L911.50 313.6L907.60 313.6L907.60 312.2ZM913.12 312.2L912.25 319.6L910.75 319.6L909.88 312.2ZM914.70 312.2L914.70 317.6L911.50 317.6L911.50 312.2ZM916.40 312.2L915.45 320.6L913.95 320.6L913.00 312.2ZM919.20 312.2L919.20 317.6L914.70 317.6L914.70 312.2ZM920.95 312.2L919.95 322.6L918.45 322.6L917.45 312.2ZM920.80 312.2L920.80 313.6L919.20 313.6L919.20 312.2ZM922.66 312.2L921.55 322.6L920.05 322.6L918.94 312.2ZM923.50 312.2L923.50 315.6L920.80 315.6L920.80 312.2ZM925.31 312.2L924.25 321.9L922.75 321.9L921.69 312.2ZM928.60 312.2L928.60 313.4L923.50 313.4L923.50 312.2ZM930.49 312.2L929.35 322.9L927.85 322.9L926.71 312.2ZM932.30 312.2L932.30 314.9L928.60 314.9L928.60 312.2ZM933.79 312.2L933.05 317.9L931.55 317.9L930.81 312.2ZM935.10 312.2L935.10 316.1L932.30 316.1L932.30 312.2ZM936.51 312.2L935.85 316.9L934.35 316.9L933.69 312.2ZM938.60 312.2L938.60 313.4L935.10 313.4L935.10 312.2ZM940.33 312.2L939.35 320.9L937.85 320.9L936.87 312.2ZM940.70 312.2L940.70 319.6L938.60 319.6L938.60 312.2ZM942.60 312.2L941.45 325.5L939.95 325.5L938.80 312.2ZM942.60 312.2L942.60 319.9L940.70 319.9L940.70 312.2ZM944.30 312.2L943.35 320.6L941.85 320.6L940.90 312.2ZM944.70 312.2L944.70 320.6L942.60 320.6L942.60 312.2ZM946.75 312.2L945.60 338.1L943.80 338.1L942.65 312.2ZM949.40 312.2L949.40 313.4L944.70 313.4L944.70 312.2ZM951.30 312.2L950.15 324.5L948.65 324.5L947.50 312.2ZM951.70 312.2L951.70 322.6L949.40 322.6L949.40 312.2ZM953.60 312.2L952.45 324.0L950.95 324.0L949.80 312.2ZM955.50 312.2L955.50 312.9L951.70 312.9L951.70 312.2ZM957.65 312.2L956.50 335.0L954.50 335.0L953.35 312.2ZM960.10 312.2L960.10 313.4L955.50 313.4L955.50 312.2ZM961.75 312.2L960.85 319.9L959.35 319.9L958.45 312.2ZM963.80 312.2L963.80 313.4L960.10 313.4L960.10 312.2ZM965.85 312.2L964.70 326.0L962.90 326.0L961.75 312.2ZM966.80 312.2L966.80 313.4L963.80 313.4L963.80 312.2ZM968.45 312.2L967.55 319.9L966.05 319.9L965.15 312.2ZM969.40 312.2L969.40 318.6L966.80 318.6L966.80 312.2ZM971.09 312.2L970.15 320.4L968.65 320.4L967.71 312.2ZM971.90 312.2L971.90 319.1L969.40 319.1L969.40 312.2ZM973.71 312.2L972.65 321.9L971.15 321.9L970.09 312.2ZM975.90 312.2L975.90 314.9L971.90 314.9L971.90 312.2ZM977.39 312.2L976.65 317.9L975.15 317.9L974.41 312.2ZM980.20 312.2L980.20 313.9L975.90 313.9L975.90 312.2ZM982.24 312.2L981.10 322.9L979.30 322.9L978.16 312.2ZM983.20 312.2L983.20 320.6L980.20 320.6L980.20 312.2ZM985.35 312.2L984.20 327.0L982.20 327.0L981.05 312.2ZM986.50 312.2L986.50 319.6L983.20 319.6L983.20 312.2ZM988.46 312.2L987.40 321.9L985.60 321.9L984.54 312.2ZM993.15 312.2L992.45 317.4L990.95 317.4L990.25 312.2ZM994.40 312.2L994.40 316.1L991.70 316.1L991.70 312.2ZM996.24 312.2L995.30 320.4L993.50 320.4L992.56 312.2ZM998.60 312.2L998.60 313.4L994.40 313.4L994.40 312.2ZM999.85 312.2L999.35 314.9L997.85 314.9L997.35 312.2ZM1000.30 312.2L1000.30 314.9L998.60 314.9L998.60 312.2ZM1002.20 312.2L1001.05 323.4L999.55 323.4L998.40 312.2Z" fill="#1f77b4" stroke="#1f77b4" stroke-width="0.8" stroke-linejoin="round" fill-rule="nonzero"/><line x1="681.5" y1="291" x2="681.5" y2="311" stroke="#fff" stroke-width="0.8" stroke-linecap="round"/><line x1="714.8" y1="275" x2="714.8" y2="311" stroke="#fff" stroke-width="1.0" stroke-linecap="round"/><line x1="705.0" y1="313.5" x2="705.0" y2="352" stroke="#fff" stroke-width="1.2" stroke-linecap="round"/><line x1="757.1" y1="285" x2="757.1" y2="311" stroke="#fff" stroke-width="1.2" stroke-linecap="round"/><line x1="760.6" y1="313.5" x2="760.6" y2="338" stroke="#fff" stroke-width="0.9" stroke-linecap="round"/>
<g stroke="#aaaaaa" stroke-width="1.15" stroke-dasharray="4.4 1.99" fill="none">
<line x1="226.54" y1="605.0" x2="226.54" y2="19.9" stroke-dashoffset="0.7"/>
<line x1="364.69" y1="605.0" x2="364.69" y2="19.9" stroke-dashoffset="0.7"/>
<line x1="502.83" y1="605.0" x2="502.83" y2="19.9" stroke-dashoffset="0.7"/>
<line x1="640.97" y1="605.0" x2="640.97" y2="19.9" stroke-dashoffset="0.7"/>
<line x1="779.11" y1="605.0" x2="779.11" y2="19.9" stroke-dashoffset="0.7"/>
<line x1="917.26" y1="605.0" x2="917.26" y2="19.9" stroke-dashoffset="0.7"/>
<line x1="88.4" y1="93.04" x2="1055.4" y2="93.04"/>
<line x1="88.4" y1="166.18" x2="1055.4" y2="166.18"/>
<line x1="88.4" y1="239.31" x2="1055.4" y2="239.31"/>
<line x1="88.4" y1="385.59" x2="1055.4" y2="385.59"/>
<line x1="88.4" y1="458.72" x2="1055.4" y2="458.72"/>
<line x1="88.4" y1="531.86" x2="1055.4" y2="531.86"/>
</g>
<g stroke="#aaaaaa" stroke-width="1.15" stroke-dasharray="4.4 1.99" fill="none" opacity="0.5">
<line x1="1055.4" y1="605.0" x2="1055.4" y2="19.9"/>
<line x1="88.4" y1="19.9" x2="1055.4" y2="19.9"/>
<line x1="88.4" y1="605.0" x2="1055.4" y2="605.0"/>
</g>
<g stroke="#000" stroke-width="1.2" fill="none">
<line x1="88.4" y1="19.4" x2="88.4" y2="605.5"/>
<line x1="88.4" y1="312.45" x2="1055.4" y2="312.45"/>
<line x1="83.4" y1="605.00" x2="88.4" y2="605.00"/>
<line x1="83.4" y1="531.86" x2="88.4" y2="531.86"/>
<line x1="83.4" y1="458.72" x2="88.4" y2="458.72"/>
<line x1="83.4" y1="385.59" x2="88.4" y2="385.59"/>
<line x1="83.4" y1="312.45" x2="88.4" y2="312.45"/>
<line x1="83.4" y1="239.31" x2="88.4" y2="239.31"/>
<line x1="83.4" y1="166.18" x2="88.4" y2="166.18"/>
<line x1="83.4" y1="93.04" x2="88.4" y2="93.04"/>
<line x1="83.4" y1="19.90" x2="88.4" y2="19.90"/>
<line x1="88.40" y1="312.45" x2="88.40" y2="317.45"/>
<line x1="226.54" y1="312.45" x2="226.54" y2="317.45"/>
<line x1="364.69" y1="312.45" x2="364.69" y2="317.45"/>
<line x1="502.83" y1="312.45" x2="502.83" y2="317.45"/>
<line x1="640.97" y1="312.45" x2="640.97" y2="317.45"/>
<line x1="779.11" y1="312.45" x2="779.11" y2="317.45"/>
<line x1="917.26" y1="312.45" x2="917.26" y2="317.45"/>
<line x1="1055.40" y1="312.45" x2="1055.40" y2="317.45"/>
</g>
<text x="77.30000000000001" y="614.30" font-size="26.5" text-anchor="end">-40</text>
<text x="77.30000000000001" y="541.16" font-size="26.5" text-anchor="end">-30</text>
<text x="77.30000000000001" y="468.02" font-size="26.5" text-anchor="end">-20</text>
<text x="77.30000000000001" y="394.89" font-size="26.5" text-anchor="end">-10</text>
<text x="77.30000000000001" y="321.75" font-size="26.5" text-anchor="end">0</text>
<text x="77.30000000000001" y="248.61" font-size="26.5" text-anchor="end">10</text>
<text x="77.30000000000001" y="175.48" font-size="26.5" text-anchor="end">20</text>
<text x="77.30000000000001" y="102.34" font-size="26.5" text-anchor="end">30</text>
<text x="77.30000000000001" y="29.20" font-size="26.5" text-anchor="end">40</text>
<text x="88.40" y="342.45" font-size="26.5" text-anchor="middle">0</text>
<text x="226.54" y="342.45" font-size="26.5" text-anchor="middle">10</text>
<text x="364.69" y="342.45" font-size="26.5" text-anchor="middle">20</text>
<text x="502.83" y="342.45" font-size="26.5" text-anchor="middle">30</text>
<text x="640.97" y="342.45" font-size="26.5" text-anchor="middle">40</text>
<text x="779.11" y="342.45" font-size="26.5" text-anchor="middle">50</text>
<text x="917.26" y="342.45" font-size="26.5" text-anchor="middle">60</text>
<text x="1055.40" y="342.45" font-size="26.5" text-anchor="middle">70</text>
<text x="571.90" y="668.3" font-size="26.5" text-anchor="middle">Time(s)</text>
<text transform="translate(29.9 312.45) rotate(-90)" font-size="26.5" text-anchor="middle">Acceleration(cm/s^2)</text>
<rect x="902.3" y="33.6" width="140" height="46.4" fill="#fff" stroke="#000" stroke-width="1.25"/>
<line x1="912" y1="53.9" x2="968.5" y2="53.9" stroke="#1f77b4" stroke-width="2.1"/>
<text x="990" y="63.7" font-size="26.5">EW</text>
</svg></body></html>
